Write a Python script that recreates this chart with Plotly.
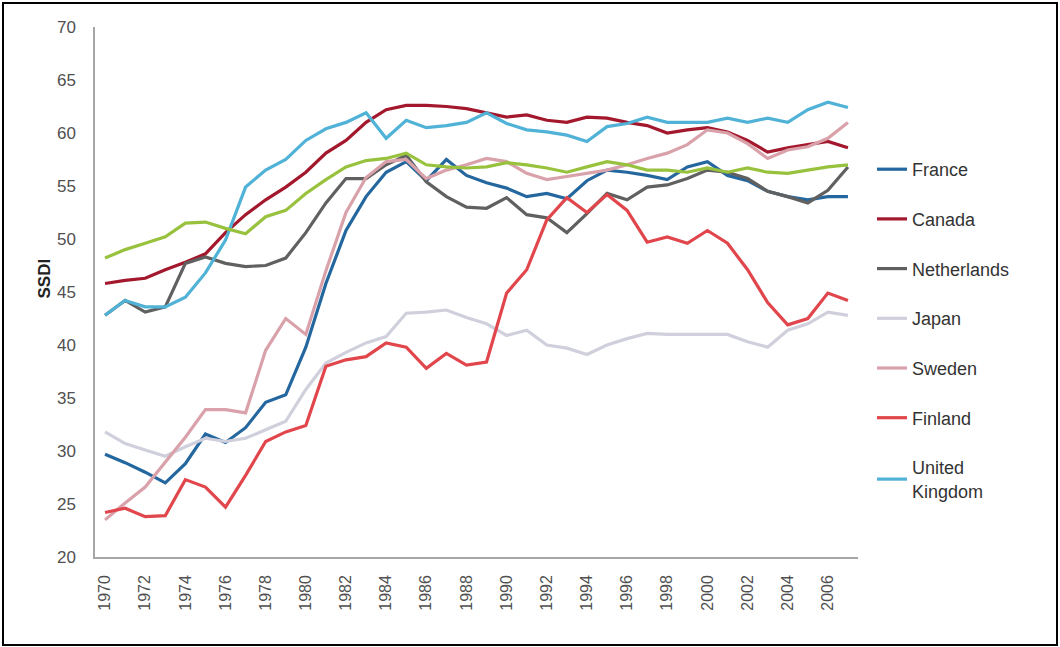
import plotly.graph_objects as go

years = [1970, 1971, 1972, 1973, 1974, 1975, 1976, 1977, 1978, 1979,
         1980, 1981, 1982, 1983, 1984, 1985, 1986, 1987, 1988, 1989,
         1990, 1991, 1992, 1993, 1994, 1995, 1996, 1997, 1998, 1999,
         2000, 2001, 2002, 2003, 2004, 2005, 2006, 2007]

france = [29.7, 28.9, 28.0, 27.0, 28.8, 31.6, 30.8, 32.2, 34.6, 35.3,
          39.8, 45.8, 50.8, 54.0, 56.3, 57.3, 55.5, 57.5, 56.0, 55.3,
          54.8, 54.0, 54.3, 53.8, 55.5, 56.5, 56.3, 56.0, 55.6, 56.8,
          57.3, 56.0, 55.5, 54.5, 54.0, 53.7, 54.0, 54.0]
canada = [45.8, 46.1, 46.3, 47.1, 47.8, 48.6, 50.6, 52.3, 53.7, 54.9,
          56.3, 58.1, 59.3, 61.0, 62.2, 62.6, 62.6, 62.5, 62.3, 61.9,
          61.5, 61.7, 61.2, 61.0, 61.5, 61.4, 61.0, 60.7, 60.0, 60.3,
          60.5, 60.1, 59.3, 58.2, 58.6, 58.9, 59.2, 58.6]
netherlands = [42.8, 44.2, 43.1, 43.6, 47.7, 48.3, 47.7, 47.4, 47.5, 48.2,
               50.6, 53.4, 55.7, 55.7, 57.0, 57.9, 55.4, 54.0, 53.0, 52.9,
               53.9, 52.3, 52.0, 50.6, 52.4, 54.3, 53.7, 54.9, 55.1, 55.7,
               56.5, 56.3, 55.7, 54.5, 54.0, 53.4, 54.6, 56.8]
japan = [31.8, 30.7, 30.1, 29.5, 30.4, 31.2, 30.9, 31.2, 32.0, 32.8,
         35.8, 38.3, 39.3, 40.2, 40.8, 43.0, 43.1, 43.3, 42.6, 42.0,
         40.9, 41.4, 40.0, 39.7, 39.1, 40.0, 40.6, 41.1, 41.0, 41.0,
         41.0, 41.0, 40.3, 39.8, 41.4, 42.0, 43.1, 42.8]
sweden = [23.5, 25.1, 26.6, 28.9, 31.3, 33.9, 33.9, 33.6, 39.5, 42.5,
          41.0, 47.0, 52.5, 55.8, 57.3, 57.5, 55.7, 56.5, 57.0, 57.6,
          57.3, 56.2, 55.6, 55.9, 56.2, 56.5, 57.0, 57.6, 58.1, 58.9,
          60.3, 60.0, 59.0, 57.6, 58.4, 58.7, 59.5, 61.0]
finland = [24.2, 24.6, 23.8, 23.9, 27.3, 26.6, 24.7, 27.7, 30.9, 31.8,
           32.4, 38.0, 38.6, 38.9, 40.2, 39.8, 37.8, 39.2, 38.1, 38.4,
           44.9, 47.1, 51.8, 53.9, 52.5, 54.2, 52.7, 49.7, 50.2, 49.6,
           50.8, 49.6, 47.1, 44.0, 41.9, 42.5, 44.9, 44.2]
united_kingdom = [42.8, 44.2, 43.6, 43.6, 44.5, 46.8, 49.9, 54.9, 56.5, 57.5,
                  59.3, 60.4, 61.0, 61.9, 59.5, 61.2, 60.5, 60.7, 61.0, 61.9,
                  60.9, 60.3, 60.1, 59.8, 59.2, 60.6, 60.9, 61.5, 61.0, 61.0,
                  61.0, 61.4, 61.0, 61.4, 61.0, 62.2, 62.9, 62.4]
green_series = [48.2, 49.0, 49.6, 50.2, 51.5, 51.6, 51.0, 50.5, 52.1, 52.7,
                54.3, 55.6, 56.8, 57.4, 57.6, 58.1, 57.0, 56.8, 56.7, 56.8,
                57.2, 57.0, 56.7, 56.3, 56.8, 57.3, 57.0, 56.5, 56.5, 56.3,
                56.7, 56.3, 56.7, 56.3, 56.2, 56.5, 56.8, 57.0]

series = [
    ("France", france, "#24679f", True),
    ("Canada", canada, "#a3182d", True),
    ("Netherlands", netherlands, "#606060", True),
    ("Japan", japan, "#cfd0dc", True),
    ("Sweden", sweden, "#d9a2ab", True),
    ("Finland", finland, "#e0464b", True),
    ("United<br>Kingdom", united_kingdom, "#4fb2d6", True),
    ("Average", green_series, "#98c23e", False),
]

fig = go.Figure()
for i, (name, vals, color, show) in enumerate(series):
    fig.add_trace(go.Scatter(
        x=years, y=vals, mode="lines", name=name,
        line=dict(color=color, width=3.2),
        showlegend=show, legendgroup=f"g{i}",
    ))

L, R, T, B = 95, 202, 27, 90
W, H = 1060, 647
pw, ph = W - L - R, H - T - B

fig.update_layout(
    width=W, height=H,
    margin=dict(l=L, r=R, t=T, b=B),
    plot_bgcolor="white", paper_bgcolor="white",
    font=dict(family="Liberation Sans, Arial, sans-serif", color="#3a3a3a"),
    legend=dict(
        x=(872 - L) / pw, y=(H - B - 151) / ph, xanchor="left", yanchor="top",
        font=dict(size=18, color="#333333"),
        tracegroupgap=23.3, traceorder="grouped",
        bgcolor="rgba(0,0,0,0)",
    ),
    showlegend=True,
)

fig.update_xaxes(
    range=[1969.5, 2007.5], tickmode="array",
    tickvals=[y for y in years if y % 2 == 0],
    ticktext=[str(y) for y in years if y % 2 == 0],
    tickangle=-90, tickfont=dict(size=16, color="#505050"),
    showgrid=False, zeroline=False,
    showline=True, linecolor="#a6a6a6", linewidth=1.5,
    ticks="", ticklabelstandoff=10,
)
fig.update_yaxes(
    range=[20, 70], tickmode="linear", tick0=20, dtick=5,
    tickfont=dict(size=17, color="#505050"),
    showgrid=False, zeroline=False,
    showline=True, linecolor="#a6a6a6", linewidth=1.5,
    ticks="", ticklabelstandoff=14,
)

fig.add_annotation(
    text="<b>SSDI</b>", textangle=-90, showarrow=False,
    xref="paper", yref="paper",
    x=(32 - L) / pw, y=(H - B - 279) / ph,
    font=dict(size=17, color="#222222"),
)

fig.add_shape(
    type="rect", xref="paper", yref="paper",
    x0=(3 - L) / pw, x1=(1057 - L) / pw,
    y0=(H - B - 645) / ph, y1=(H - B - 3) / ph,
    line=dict(color="black", width=2), fillcolor="rgba(0,0,0,0)",
)

fig.write_html("out.html", config={"displayModeBar": False},
               post_script="document.body.style.margin='0';")
